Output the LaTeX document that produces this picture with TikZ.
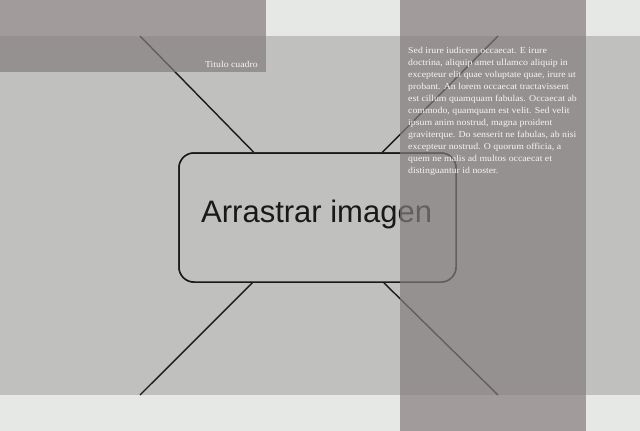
\documentclass[tikz,border=0pt]{standalone}
\usepackage{fontspec}
\setmainfont{Liberation Serif}
\newfontfamily\arialf{Liberation Sans}
\newfontfamily\parafont[FakeStretch=1.09]{Liberation Serif}
\definecolor{bgc}{RGB}{230,232,229}
\definecolor{bandc}{RGB}{192,193,190}
\definecolor{ovc}{RGB}{132,125,125}
\definecolor{linec}{RGB}{25,25,25}
\definecolor{txtc}{RGB}{245,245,245}
\tikzset{
  diag/.style={draw=linec, line width=1.4pt},
  imgbox/.style={draw=linec, line width=1.5pt, fill=bandc, rounded corners=15pt, minimum width=277pt, minimum height=129pt, inner sep=0pt},
  overlay/.style={fill=ovc, fill opacity=0.7, draw=none},
  para/.style={text=txtc, font=\parafont\fontsize{9}{12}\selectfont, align=left, inner sep=0pt, anchor=north west},
}
\begin{document}
\begin{tikzpicture}[x=1pt,y=-1pt]
\useasboundingbox (0,0) rectangle (640,431);
\fill[bgc] (0,0) rectangle (640,431);
\fill[bandc] (0,36) rectangle (640,395);
\coordinate (tl) at (140,36);
\coordinate (tr) at (498,36);
\coordinate (bl) at (140,395);
\coordinate (br) at (498,395);
\node[imgbox] (box) at (317.5,217.5) {};
\draw[diag] (tl) -- (box);
\draw[diag] (tr) -- (box);
\draw[diag] (bl) -- (box);
\draw[diag] (br) -- (box);
\node[imgbox] (box2) at (317.5,217.5) {};
\node[anchor=base west, inner sep=0pt, font=\arialf\fontsize{31}{31}\selectfont, text=linec] (txt) at (201,222) {Arrastrar imagen};
\fill[overlay] (0,0) rectangle (266,71.5);
\fill[overlay] (400,0) rectangle (586,431);
\node[anchor=base east, inner sep=0pt, text=txtc, font=\parafont\fontsize{9}{10}\selectfont] (title) at (258,67) {Titulo cuadro};
\node[para] (paragraph) at (408,46.8) {Sed irure iudicem occaecat. E irure\\
doctrina, aliquip amet ullamco aliquip in\\
excepteur elit quae voluptate quae, irure ut\\
probant. An lorem occaecat tractavissent\\
est cillum quamquam fabulas. Occaecat ab\\
commodo, quamquam est velit. Sed velit\\
ipsum anim nostrud, magna proident\\
graviterque. Do senserit ne fabulas, ab nisi\\
excepteur nostrud. O quorum officia, a\\
quem ne malis ad multos occaecat et\\
distinguantur id noster.};
\end{tikzpicture}
\end{document}
